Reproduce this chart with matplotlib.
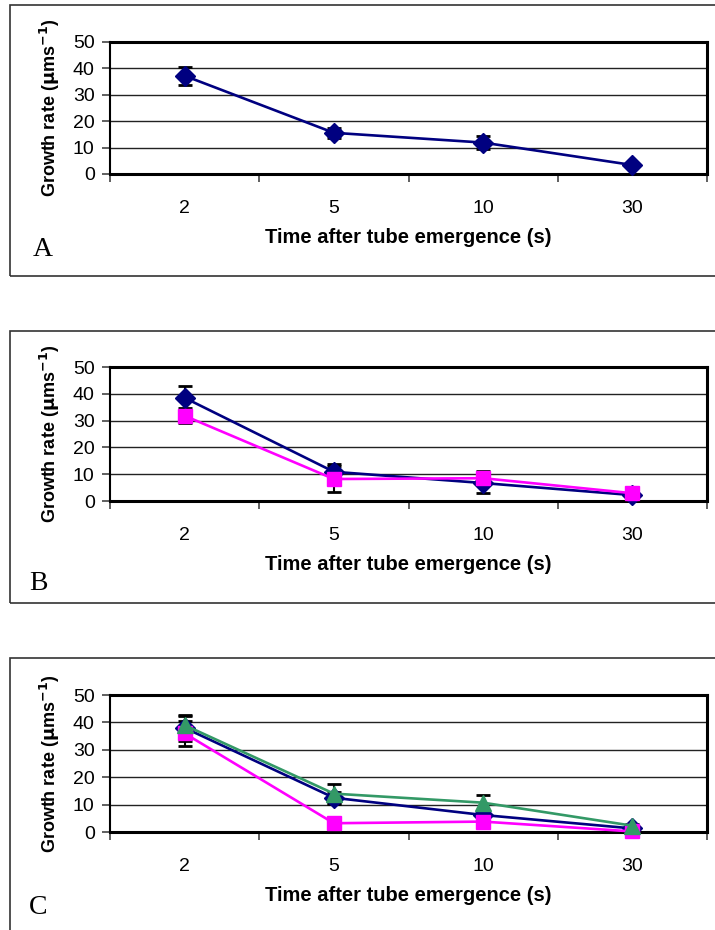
import matplotlib
matplotlib.use("Agg")
import matplotlib.pyplot as plt
from matplotlib.patches import Rectangle
import numpy as np

W, H = 715, 930
DPI = 100

categories = ["2", "5", "10", "30"]
y_ticks = [0, 10, 20, 30, 40, 50]

# Panel A
a_blue = [37.2, 15.6, 11.9, 3.4]
a_blue_err = [3.5, 1.9, 2.5, 0.4]

# Panel B
b_blue = [38.5, 10.9, 6.7, 2.2]
b_blue_err = [4.4, 2.9, 3.6, 0.4]
b_mag = [31.8, 8.2, 8.5, 2.9]
b_mag_err = [2.8, 4.7, 2.7, 0.4]

# Panel C
c_blue = [38.0, 12.5, 6.2, 1.3]
c_blue_err = [4.8, 2.2, 1.5, 0.5]
c_mag = [36.0, 3.2, 3.8, 0.2]
c_mag_err = [4.6, 1.0, 1.0, 0.3]
c_green = [39.0, 14.0, 10.7, 2.3]
c_green_err = [3.5, 3.5, 2.8, 0.5]

NAVY = "#000080"
MAG = "#FF00FF"
GREEN = "#339966"

SANS = ["Liberation Sans", "DejaVu Sans"]
SERIF = ["Liberation Serif", "DejaVu Serif"]

fig = plt.figure(figsize=(W / DPI, H / DPI), dpi=DPI)


def fx(x):
    return x / W


def fy(y):
    return 1 - y / H


def make_axes(top, bottom, left=110, right=707):
    return fig.add_axes([fx(left), fy(bottom), (right - left) / W, (bottom - top) / H])


panels = [
    dict(frame=(10, 5, 276), ax=(42, 174), xlab=202, xtitle=237, letter=("A", 43, 250),
         series=[(a_blue, a_blue_err, NAVY, "D", 10)]),
    dict(frame=(10, 331, 603), ax=(367, 501), xlab=529, xtitle=565, letter=("B", 38, 583),
         series=[(b_blue, b_blue_err, NAVY, "D", 10), (b_mag, b_mag_err, MAG, "s", 10)]),
    dict(frame=(10, 658, 990), ax=(695, 832), xlab=860, xtitle=895, letter=("C", 38, 907),
         series=[(c_blue, c_blue_err, NAVY, "D", 10), (c_mag, c_mag_err, MAG, "s", 10),
                 (c_green, c_green_err, GREEN, "^", 11)]),
]

x = np.arange(len(categories))

for p in panels:
    l, t, b = p["frame"]
    fig.patches.append(Rectangle((fx(l), fy(b)), (W + 20 - l) / W, (b - t) / H,
                                 transform=fig.transFigure, fill=False,
                                 edgecolor="#333333", linewidth=1.2, zorder=0))
    top, bot = p["ax"]
    ax = make_axes(top, bot)
    ax.set_xlim(-0.5, len(categories) - 0.5)
    ax.set_ylim(0, 50)
    ax.set_yticks(y_ticks)
    ax.set_yticklabels([str(v) for v in y_ticks], fontfamily=SANS, fontsize=14)
    ax.set_xticks(np.arange(len(categories) + 1) - 0.5)
    ax.set_xticklabels([])
    ax.set_xticks(x, minor=True)
    ax.set_xticklabels(categories, minor=True, fontfamily=SANS, fontsize=14)
    ax.tick_params(axis="x", which="minor", length=0, pad=19)
    ax.tick_params(axis="x", which="major", direction="out", length=6, width=1.2, color="#444444")
    ax.tick_params(axis="y", direction="out", length=6, width=1.2, color="#444444", pad=5)
    for yv in y_ticks[1:-1]:
        ax.axhline(yv, color="#222222", linewidth=1.0, zorder=1)
    for s in ["top", "right", "left", "bottom"]:
        ax.spines[s].set_linewidth(2.2)
        ax.spines[s].set_color("black")
    ax.spines["left"].set_linewidth(1.5)
    for vals, errs, col, mk, ms in p["series"]:
        ax.errorbar(x, vals, yerr=errs, fmt="none", ecolor="black", elinewidth=1.5,
                    capsize=5, capthick=2, zorder=3)
        ax.plot(x, vals, color=col, linewidth=1.9, marker=mk, markersize=ms,
                markerfacecolor=col, markeredgecolor=col, zorder=4, clip_on=False)
    ax.set_facecolor("white")
    fig.text(fx(408), fy(p["xtitle"]), "Time after tube emergence (s)", ha="center", va="center",
             fontfamily=SANS, fontsize=14.5, fontweight="bold")
    fig.text(fx(50), fy((top + bot) / 2), r"Growth rate ($\mathbf{\mu}$ms$^{\mathbf{-1}}$)",
             rotation=90, ha="center", va="center", fontfamily=SANS, fontsize=13,
             fontweight="bold")
    letter, lx, ly = p["letter"]
    fig.text(fx(lx), fy(ly), letter, ha="center", va="center", fontfamily=SERIF, fontsize=20)

fig.savefig("out.png", dpi=DPI)
